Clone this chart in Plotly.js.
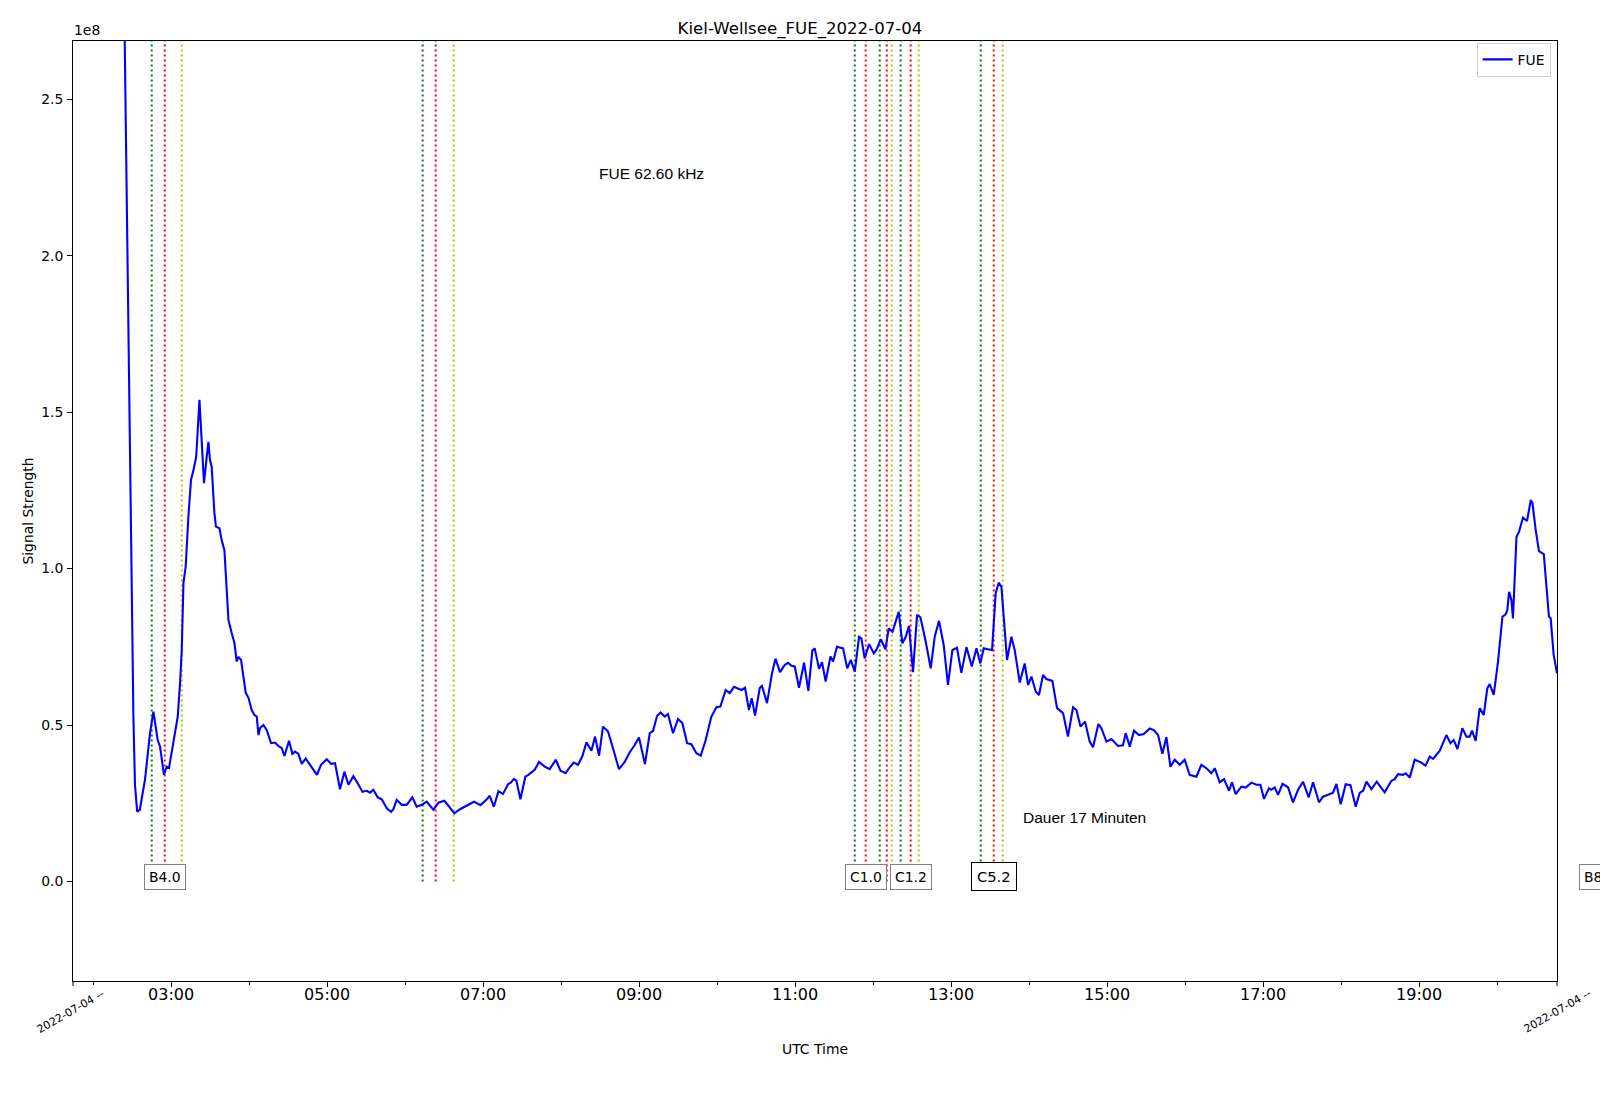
<!DOCTYPE html>
<html><head><meta charset="utf-8">
<script src="https://cdn.plot.ly/plotly-3.0.1.min.js"></script>
<style>html,body{margin:0;padding:0;background:#fff}#chart{width:1600px;height:1102px}</style>
</head><body><div id="chart"></div>
<script>
const DATE = '2022-07-04';
// time of each sample, minutes after 00:00 UTC
const minutesUTC = [
104.5,125.1,143.5,148.4,149.7,151.0,152.2,153.9,155.9,159.9,
163.8,166.4,169.7,171.5,174.5,176.6,178.4,181.8,185.1,186.9,
188.2,189.5,191.2,193.3,195.3,197.2,199.3,201.8,203.5,205.3,
207.4,208.7,209.9,211.2,213.3,214.5,217.2,218.9,221.0,222.2,
224.1,226.6,228.7,230.5,231.8,233.8,235.6,237.4,239.5,242.0,
244.1,245.9,247.2,248.4,251.0,253.5,256.9,259.9,262.5,265.1,
267.2,270.7,273.3,275.3,277.9,280.5,283.5,286.9,289.5,292.2,
295.3,299.7,303.0,306.1,309.9,313.3,316.4,320.2,323.5,327.2,
330.5,333.0,335.6,338.9,342.0,345.9,349.2,351.0,353.5,357.4,
361.2,365.6,368.9,372.8,376.6,381.8,385.6,390.2,393.3,397.9,
402.2,407.4,413.0,417.9,422.5,425.1,428.2,431.8,435.3,439.2,
441.2,443.8,445.6,448.7,452.5,454.5,459.7,463.0,467.4,471.2,
475.9,479.5,483.5,486.6,489.7,493.0,496.4,499.5,503.3,506.1,
509.2,512.2,516.1,519.9,524.5,528.9,532.8,536.6,539.9,544.5,
548.2,550.7,553.8,556.4,559.7,562.2,566.1,569.9,573.3,576.9,
580.2,584.1,587.4,591.0,595.6,599.5,602.5,606.6,609.7,613.0,
618.7,621.5,624.5,626.6,629.2,632.8,634.5,638.4,642.2,644.9,
648.4,652.0,654.5,657.2,659.7,663.0,666.9,670.2,673.3,675.1,
678.4,680.7,683.5,687.2,689.2,692.2,696.9,700.1,702.8,705.9,
709.2,711.0,713.5,716.9,720.5,722.5,725.9,729.5,732.0,734.9,
739.7,742.5,745.1,747.6,750.7,753.8,756.4,760.5,764.3,767.4,
770.7,774.3,777.6,781.0,784.5,787.9,791.8,795.9,799.5,802.5,
805.1,808.4,811.5,814.3,816.6,818.7,820.5,823.0,826.4,828.9,
832.8,836.6,839.2,841.8,845.1,847.6,850.7,853.3,857.9,861.5,
866.1,869.9,873.8,876.4,879.5,883.0,886.6,889.2,893.3,895.6,
899.5,903.3,908.4,912.2,914.3,917.4,920.7,924.5,928.2,932.8,
935.9,939.2,942.5,945.6,948.7,952.0,955.9,959.7,963.5,968.7,
972.5,976.4,980.2,982.8,986.6,989.9,993.8,996.1,998.9,1003.3,
1006.6,1011.0,1014.9,1017.9,1020.7,1024.5,1026.4,1028.9,1031.5,1034.9,
1039.2,1043.0,1046.9,1050.7,1055.1,1058.4,1063.0,1066.1,1069.9,1073.8,
1076.4,1079.7,1083.5,1087.2,1091.2,1094.3,1096.9,1099.5,1103.3,1107.4,
1113.5,1118.7,1121.2,1123.8,1127.6,1129.7,1132.8,1136.6,1141.8,1144.9,
1148.2,1150.7,1155.9,1161.0,1164.1,1166.6,1169.5,1173.3,1176.4,1178.9,
1180.7,1183.5,1186.6,1189.7,1192.5,1194.3,1197.4,1200.7,1204.1,1206.6,
1207.9,1209.2,1211.0,1212.2,1214.9,1216.9,1219.9,1223.0,1225.9,1227.2,
1229.7,1232.2,1235.9,1237.9,1239.9,1241.2,1243.5,1246.1
];
// FUE signal strength in units of 1e8
const signalE8 = [
3.5,3.4,2.95,1.283,0.845,0.527,0.309,0.223,0.229,0.325,
0.475,0.543,0.452,0.431,0.341,0.367,0.363,0.452,0.527,0.635,
0.740,0.954,1.006,1.166,1.283,1.315,1.357,1.539,1.389,1.273,
1.358,1.405,1.347,1.326,1.178,1.134,1.129,1.091,1.059,0.954,
0.836,0.794,0.762,0.703,0.718,0.708,0.655,0.603,0.587,0.548,
0.532,0.527,0.468,0.490,0.500,0.484,0.442,0.444,0.433,0.426,
0.401,0.450,0.408,0.415,0.408,0.376,0.393,0.373,0.359,0.341,
0.373,0.391,0.376,0.378,0.295,0.351,0.309,0.337,0.314,0.287,
0.290,0.284,0.293,0.269,0.263,0.234,0.223,0.231,0.261,0.245,
0.245,0.269,0.239,0.245,0.255,0.229,0.252,0.258,0.242,0.218,
0.231,0.242,0.255,0.244,0.261,0.274,0.239,0.288,0.280,0.311,
0.316,0.328,0.322,0.263,0.335,0.340,0.357,0.382,0.367,0.359,
0.389,0.354,0.346,0.365,0.380,0.373,0.401,0.445,0.418,0.463,
0.402,0.495,0.479,0.426,0.359,0.382,0.413,0.436,0.460,0.375,
0.474,0.481,0.529,0.540,0.527,0.535,0.474,0.519,0.506,0.442,
0.439,0.410,0.402,0.449,0.527,0.557,0.559,0.612,0.602,0.622,
0.612,0.619,0.548,0.586,0.530,0.618,0.625,0.570,0.665,0.712,
0.669,0.692,0.699,0.689,0.687,0.619,0.699,0.609,0.738,0.745,
0.680,0.701,0.639,0.719,0.703,0.750,0.745,0.681,0.708,0.671,
0.782,0.777,0.713,0.759,0.729,0.740,0.774,0.742,0.809,0.798,
0.862,0.761,0.782,0.817,0.669,0.852,0.844,0.766,0.681,0.782,
0.833,0.756,0.628,0.740,0.747,0.667,0.749,0.687,0.745,0.697,
0.745,0.742,0.740,0.921,0.955,0.942,0.846,0.708,0.782,0.740,
0.636,0.697,0.628,0.655,0.607,0.596,0.660,0.647,0.641,0.554,
0.538,0.463,0.557,0.548,0.495,0.511,0.447,0.429,0.503,0.490,
0.447,0.455,0.433,0.435,0.474,0.431,0.482,0.468,0.471,0.489,
0.484,0.468,0.408,0.461,0.367,0.389,0.373,0.389,0.341,0.335,
0.373,0.362,0.346,0.362,0.317,0.327,0.290,0.317,0.279,0.303,
0.300,0.316,0.309,0.309,0.264,0.298,0.293,0.301,0.277,0.312,
0.301,0.253,0.293,0.319,0.269,0.317,0.253,0.271,0.277,0.284,
0.312,0.247,0.311,0.308,0.239,0.283,0.290,0.319,0.295,0.319,
0.285,0.322,0.327,0.343,0.341,0.346,0.332,0.389,0.380,0.370,
0.399,0.392,0.418,0.468,0.442,0.452,0.423,0.490,0.463,0.463,
0.482,0.449,0.554,0.532,0.618,0.631,0.596,0.703,0.846,0.854,
0.868,0.926,0.900,0.841,1.102,1.118,1.163,1.152,1.219,1.209,
1.123,1.056,1.046,0.932,0.846,0.841,0.724,0.665
];
// flare markers (minutes after 00:00 UTC)
const flareStartMin = [165.1, 373.5, 705.9, 725.1, 741.2, 802.8];
const flarePeakMin  = [175.1, 383.5, 714.3, 730.5, 748.9, 812.8];
const flareEndMin   = [188.2, 397.4, 734.3, 755.1, 819.7];
const flareLabelMin  = [175.1, 714.3, 748.9, 812.8];
const flareLabelText = ['B4.0', 'C1.0', 'C1.2', 'C5.2'];
const offLabelText = 'B8.0';
const yTickVals = [0, 0.5, 1.0, 1.5, 2.0, 2.5];
const yTickText = ['0.0', '0.5', '1.0', '1.5', '2.0', '2.5'];
const xRangeMin = [104.53, 1246.07];
const yRange = [-0.318, 2.686];

function pad(n){ return (n < 10 ? '0' : '') + n; }
function toDate(m){
  const s = Math.round(m * 60);
  return DATE + ' ' + pad(Math.floor(s / 3600)) + ':' + pad(Math.floor((s % 3600) / 60)) + ':' + pad(s % 60);
}

const trace = {
  x: minutesUTC.map(toDate),
  y: signalE8,
  type: 'scatter', mode: 'lines', name: 'FUE',
  line: { color: '#0000ff', width: 2.1 }
};

const shapes = [];
function vline(m, color){
  shapes.push({ type: 'line', xref: 'x', yref: 'y', x0: toDate(m), x1: toDate(m),
    y0: 0, y1: yRange[1], line: { color: color, width: 2, dash: '2px,3px' }, layer: 'below' });
}
flareStartMin.forEach(m => vline(m, '#008000'));
flarePeakMin.forEach(m => vline(m, '#ff0000'));
flareEndMin.forEach(m => vline(m, '#bfbf00'));
[0, 1].forEach(px => shapes.push({ type: 'line', xref: 'paper', yref: 'paper',
  x0: px, x1: px, y0: 0, y1: -5 / 940, line: { color: '#000', width: 1 } }));

const annotations = [];
flareLabelText.forEach((t, i) => {
  const big = t === 'C5.2';
  annotations.push({ x: toDate(flareLabelMin[i]), y: 0.015, xref: 'x', yref: 'y',
    text: t, showarrow: false, xanchor: 'center', yanchor: 'middle',
    font: { family: 'DejaVu Sans', size: big ? 14.7 : 13.9, color: '#000' },
    bgcolor: '#ffffff', bordercolor: big ? '#000000' : '#808080', borderwidth: 1,
    borderpad: big ? 5 : 4 });
});
annotations.push({ x: 1.0145, y: 0.015, xref: 'paper', yref: 'y', text: offLabelText,
  showarrow: false, xanchor: 'left', yanchor: 'middle',
  font: { family: 'DejaVu Sans', size: 13.9, color: '#000' },
  bgcolor: '#ffffff', bordercolor: '#808080', borderwidth: 1, borderpad: 4 });
annotations.push({ x: toDate(508.2), y: 2.262, xref: 'x', yref: 'y', text: 'FUE 62.60 kHz',
  showarrow: false, xanchor: 'left', yanchor: 'middle', borderpad: 0,
  font: { family: 'Liberation Sans', size: 15.5, color: '#000' } });
annotations.push({ x: toDate(834.6), y: 0.205, xref: 'x', yref: 'y', text: 'Dauer 17 Minuten',
  showarrow: false, xanchor: 'left', yanchor: 'middle', borderpad: 0,
  font: { family: 'Liberation Sans', size: 15.5, color: '#000' } });
annotations.push({ x: 0, y: 1, xref: 'paper', yref: 'paper', text: '1e8', showarrow: false,
  xanchor: 'left', yanchor: 'bottom', borderpad: 0, yshift: 2,
  font: { family: 'DejaVu Sans', size: 13.9, color: '#000' } });
[[-0.0015, -0.0325], [1.0, -0.0325]].forEach(p => annotations.push({
  x: p[0], y: p[1], xref: 'paper', yref: 'paper', text: DATE + ' --', showarrow: false,
  textangle: -30, xanchor: 'center', yanchor: 'middle', borderpad: 0,
  font: { family: 'DejaVu Sans', size: 11, color: '#000' } }));

const layout = {
  width: 1600, height: 1102, autosize: false,
  paper_bgcolor: '#ffffff', plot_bgcolor: '#ffffff',
  margin: { l: 73, r: 43, t: 41, b: 121, pad: 0 },
  font: { family: 'DejaVu Sans', color: '#000', size: 13.9 },
  title: { text: 'Kiel-Wellsee_FUE_2022-07-04', x: 0.5, xref: 'container', xanchor: 'center',
    y: 1 - 28.6 / 1102, yref: 'container', yanchor: 'middle',
    font: { family: 'DejaVu Sans', size: 16.6, color: '#000' } },
  showlegend: true,
  legend: { x: 0.9957, xanchor: 'right', y: 0.998, yanchor: 'top',
    bordercolor: '#d0d0d0', borderwidth: 1, bgcolor: 'rgba(255,255,255,0.8)',
    font: { family: 'DejaVu Sans', size: 13.9, color: '#000' } },
  xaxis: {
    type: 'date', range: xRangeMin.map(toDate),
    tick0: DATE + ' 01:00:00', dtick: 7200000, tickformat: '%H:%M',
    ticks: 'outside', ticklen: 5, tickcolor: '#000', ticklabelstandoff: -6,
    minor: { dtick: 3600000, tick0: DATE + ' 00:00:00', ticks: 'outside', ticklen: 3, tickcolor: '#000', showgrid: false },
    tickfont: { family: 'DejaVu Sans', size: 16, color: '#000' },
    showgrid: false, zeroline: false, showline: true, mirror: true, linecolor: '#000', linewidth: 1,
    title: { text: 'UTC Time', standoff: 41, font: { family: 'DejaVu Sans', size: 13.9, color: '#000' } },
    automargin: false
  },
  yaxis: {
    range: yRange, tickvals: yTickVals, ticktext: yTickText,
    ticks: 'outside', ticklen: 5, tickcolor: '#000', ticklabelstandoff: 1,
    tickfont: { family: 'DejaVu Sans', size: 13.9, color: '#000' },
    showgrid: false, zeroline: false, showline: true, mirror: true, linecolor: '#000', linewidth: 1,
    title: { text: 'Signal Strength', standoff: 4, font: { family: 'DejaVu Sans', size: 13.9, color: '#000' } },
    automargin: false
  },
  shapes: shapes,
  annotations: annotations
};

Plotly.newPlot('chart', [trace], layout, { displayModeBar: false, staticPlot: true });
</script>
</body></html>
